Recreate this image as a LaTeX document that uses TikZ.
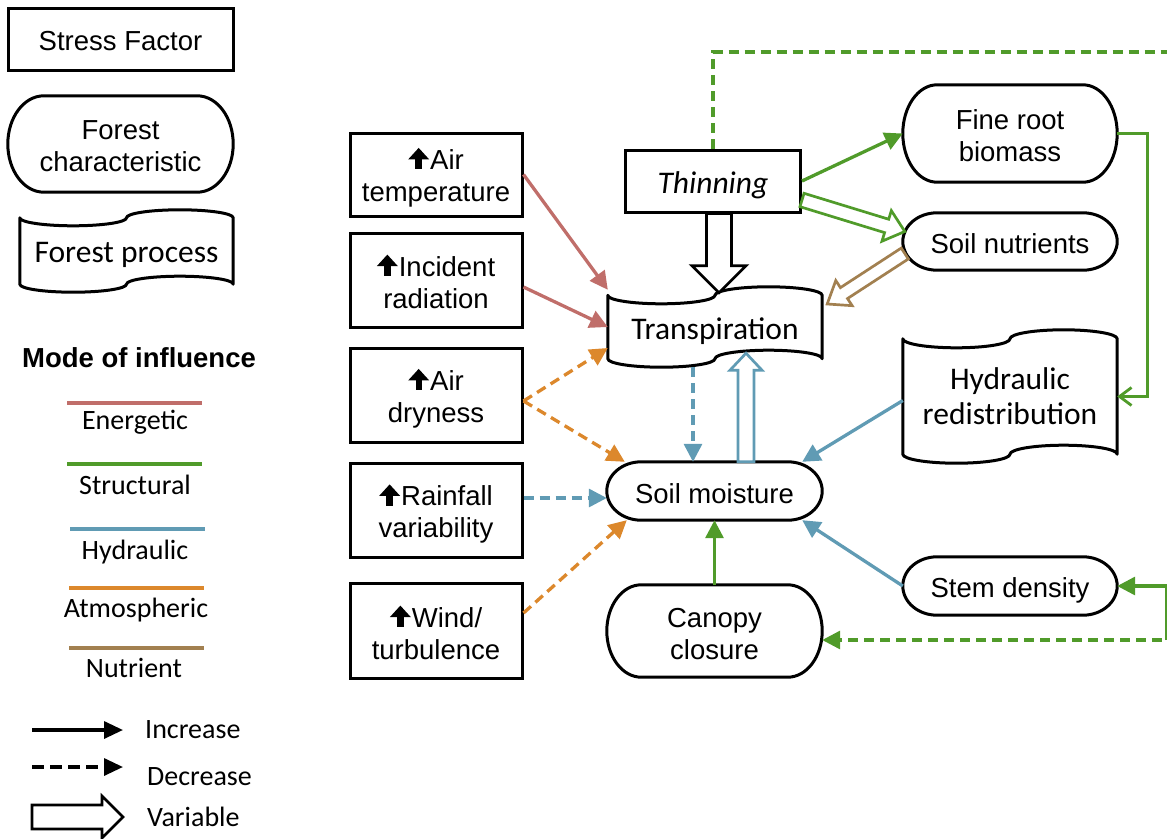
\documentclass[tikz,border=0pt]{standalone}
\usepackage{fontspec}
\setmainfont{Liberation Sans}
\newfontfamily\calib{Carlito}
\usetikzlibrary{arrows.meta,calc}
\definecolor{cEn}{RGB}{192,110,106}
\definecolor{cSt}{RGB}{80,155,42}
\definecolor{cHy}{RGB}{96,155,180}
\definecolor{cAt}{RGB}{220,136,44}
\definecolor{cNu}{RGB}{162,128,80}
\newcommand\af{\fontsize{27.5pt}{32pt}\selectfont}
\newcommand\cf{\calib\fontsize{31.5pt}{35pt}\selectfont}
\newcommand\lf{\calib\fontsize{28pt}{32pt}\selectfont}
\newcommand\uarr{\tikz[baseline=0pt]{\fill[black] (-3.2pt,0pt) rectangle (3.2pt,11pt); \fill[black] (-10.5pt,10pt) -- (0pt,21.5pt) -- (10.5pt,10pt) -- cycle;}\kern1pt}
\newcommand\tapeshape[2]{%
  \draw[shapeline] let \p1=(#1.north west), \p2=(#1.south east), \n1={(\x2-\x1)/4} in
   (\x1,\y1-#2) arc[start angle=180,end angle=360,x radius=\n1,y radius=#2]
   arc[start angle=180,end angle=0,x radius=\n1,y radius=#2]
   -- (\x2,\y2+#2)
   arc[start angle=0,end angle=180,x radius=\n1,y radius=#2]
   arc[start angle=0,end angle=-180,x radius=\n1,y radius=#2]
   -- cycle;}
\newcommand\termshape[1]{%
  \draw[shapeline] let \p1=(#1.north west), \p2=(#1.south east), \n1={0.16*(\x2-\x1)}, \n2={(\y1-\y2)/2} in
   (\x1+\n1,\y1) -- (\x2-\n1,\y1) arc[start angle=90,end angle=-90,x radius=\n1,y radius=\n2]
   -- (\x1+\n1,\y2) arc[start angle=270,end angle=90,x radius=\n1,y radius=\n2] -- cycle;}
\newcommand\fatarrow[6]{%
  \coordinate (fa-P) at ($(#2)!#5!(#1)$);
  \draw[#6] ($(#1)!#3!90:(#2)$) -- ($(fa-P)!#3!-90:(#1)$) -- ($(fa-P)!#4!-90:(#1)$) -- (#2)
    -- ($(fa-P)!#4!90:(#1)$) -- ($(fa-P)!#3!90:(#1)$) -- ($(#1)!#3!-90:(#2)$) -- cycle;}
\begin{document}
\begin{tikzpicture}[x=1pt,y=1pt,
  lbl/.style={inner sep=0pt, align=center},
  frame/.style={inner sep=0pt},
  sbox/.style={frame, draw=black, line width=3pt},
  tl/.style={lbl, yshift=-#1},
  shapeline/.style={draw=black, line width=3pt, line join=round},
  tipT/.style={-{Triangle[length=18pt,width=18pt]}},
  conn/.style={line width=3.3pt, tipT},
  lnEn/.style={conn, draw=cEn},
  lnSt/.style={conn, draw=cSt},
  lnHy/.style={conn, draw=cHy},
  lnAt/.style={conn, draw=cAt},
  dec/.style={dash pattern=on 10pt off 6pt},
  fat/.style={line width=2.7pt, line join=miter, fill=white},
  swatch/.style={line width=3.3pt},
]
\useasboundingbox (0,0) rectangle (1167,-838);
\clip (0,0) rectangle (1167,-838);

% ---------- legend ----------
\node[sbox, minimum width=225pt, minimum height=62pt,
  label={[tl=2pt, font=\af]center:Stress Factor}] (lsf) at (120.5,-39) {};
\node[frame, minimum width=225pt, minimum height=96pt,
  label={[tl=2.5pt, font=\af]center:{Forest\\characteristic}}] (lfc) at (120.5,-144) {};
\node[frame, minimum width=213pt, minimum height=82pt,
  label={[tl=3.5pt, font=\cf]center:Forest process}] (lfp) at (126.5,-251) {};
\termshape{lfc}
\tapeshape{lfp}{8pt}

\node[lbl, font=\af\bfseries] (mode) at (139,-358) {Mode of influence};
\coordinate (s1a) at (67,-403); \coordinate (s1b) at (202,-403);
\coordinate (s2a) at (67,-464); \coordinate (s2b) at (202,-464);
\coordinate (s3a) at (70,-529); \coordinate (s3b) at (205,-529);
\coordinate (s4a) at (69,-588); \coordinate (s4b) at (204,-588);
\coordinate (s5a) at (69,-648); \coordinate (s5b) at (204,-648);
\draw[swatch, cEn] (s1a) -- (s1b);
\draw[swatch, cSt] (s2a) -- (s2b);
\draw[swatch, cHy] (s3a) -- (s3b);
\draw[swatch, cAt] (s4a) -- (s4b);
\draw[swatch, cNu] (s5a) -- (s5b);
\node[lbl, font=\lf] (lEn) at (135,-422) {Energetic};
\node[lbl, font=\lf] (lSt) at (135,-485) {Structural};
\node[lbl, font=\lf] (lHy) at (135,-552) {Hydraulic};
\node[lbl, font=\lf] (lAt) at (136,-610) {Atmospheric};
\node[lbl, font=\lf] (lNu) at (134,-668) {Nutrient};

\coordinate (inA) at (32,-730); \coordinate (inB) at (123,-730);
\coordinate (deA) at (32,-767); \coordinate (deB) at (123,-767);
\coordinate (vaA) at (32,-817); \coordinate (vaB) at (123,-817);
\draw[line width=3.3pt, -{Triangle[length=19pt,width=17pt]}] (inA) -- (inB);
\draw[line width=3.3pt, dash pattern=on 12pt off 6pt, -{Triangle[length=19pt,width=17pt]}] (deA) -- (deB);
\fatarrow{vaA}{vaB}{12pt}{21pt}{21pt}{fat, draw=black}
\node[lbl, font=\lf, anchor=west] (lInc) at (145,-730) {Increase};
\node[lbl, font=\lf, anchor=west] (lDec) at (147,-777) {Decrease};
\node[lbl, font=\lf, anchor=west] (lVar) at (147,-817) {Variable};

% ---------- stress factors ----------
\node[sbox, minimum width=172pt, minimum height=83pt,
  label={[tl=3pt, font=\af]center:{\uarr Air\\temperature}}] (nAT) at (436,-174.5) {};
\node[sbox, minimum width=172pt, minimum height=94pt,
  label={[tl=1.5pt, font=\af]center:{\uarr Incident\\radiation}}] (nIR) at (436,-280) {};
\node[sbox, minimum width=172pt, minimum height=94pt,
  label={[tl=3.5pt, font=\af]center:{\uarr Air\\dryness}}] (nAD) at (436,-395) {};
\node[sbox, minimum width=172pt, minimum height=94pt,
  label={[tl=4pt, font=\af]center:{\uarr Rainfall\\variability}}] (nRV) at (436,-510) {};
\node[sbox, minimum width=172pt, minimum height=95pt,
  label={[tl=2pt, font=\af]center:{\uarr Wind/\\turbulence}}] (nWT) at (436,-630.5) {};
\node[sbox, minimum width=175pt, minimum height=62pt,
  label={[tl=4pt, font=\cf\itshape]center:Thinning}] (nTH) at (713,-181) {};

% ---------- processes / characteristics ----------
\node[frame, minimum width=214pt, minimum height=80pt,
  label={[tl=4.5pt, font=\cf]center:Transpiration}] (nTR) at (715,-327) {};
\node[frame, minimum width=214pt, minimum height=133pt,
  label={[tl=0pt, font=\cf]center:{Hydraulic\\redistribution}}] (nHR) at (1010,-396.5) {};
\node[frame, minimum width=215pt, minimum height=58pt,
  label={[tl=3pt, font=\af]center:Soil moisture}] (nSM) at (714.5,-491) {};
\node[frame, minimum width=215pt, minimum height=92pt,
  label={[tl=3.5pt, font=\af]center:{Canopy\\closure}}] (nCC) at (714.5,-631) {};
\node[frame, minimum width=214pt, minimum height=97pt,
  label={[tl=2.5pt, font=\af]center:{Fine root\\biomass}}] (nFR) at (1010,-133.5) {};
\node[frame, minimum width=214pt, minimum height=57pt,
  label={[tl=2pt, font=\af]center:Soil nutrients}] (nSN) at (1010,-241.5) {};
\node[frame, minimum width=214pt, minimum height=58pt,
  label={[tl=4pt, font=\af]center:Stem density}] (nSD) at (1010,-586) {};
\tapeshape{nTR}{8.5pt}
\tapeshape{nHR}{9pt}
\termshape{nSM}
\termshape{nCC}
\termshape{nFR}
\termshape{nSN}
\termshape{nSD}

% ---------- connectors ----------
\draw[lnEn] (nAT.east) -- ([yshift=-3pt]nTR.north west);
\draw[lnEn] ([yshift=-7pt]nIR.east) -- (nTR.west);
\draw[lnAt, dec] ([yshift=-6pt]nAD.east) -- ([yshift=-21pt]nTR.west);
\draw[lnAt, dec] ([yshift=-6pt]nAD.east) -- ([xshift=18pt]nSM.north west);
\draw[lnHy, dec] ([yshift=12pt]nRV.east) -- ([yshift=-7pt]nSM.west);
\draw[lnAt, dec] ([yshift=17.5pt]nWT.east) -- ([xshift=20pt]nSM.south west);

\coordinate (tdA) at ($(nTR.south)+(-22,0)$);
\draw[lnHy, dec] (tdA) -- (tdA |- nSM.north);

\coordinate (vbA) at ($(nSM.north)+(31.5,0)$);
\coordinate (vbB) at ($(nTR.south)+(31,14)$);
\fatarrow{vbA}{vbB}{8pt}{16pt}{17pt}{fat, draw=cHy}

\coordinate (tbA) at ($(nTH.south)+(6,0)$);
\coordinate (tbB) at ($(nTR.north)+(4,-6)$);
\fatarrow{tbA}{tbB}{12.5pt}{27pt}{27pt}{fat, draw=black}

\draw[lnSt] (nTH.east) -- (nFR.west);
\coordinate (vgA) at ($(nTH.east)+(0,-19)$);
\coordinate (vgB) at ($(nSN.west)+(2,10)$);
\fatarrow{vgA}{vgB}{7pt}{16pt}{19pt}{fat, draw=cSt}

\coordinate (vnA) at ($(nSN.west)+(2,-12)$);
\coordinate (vnB) at ($(nTR.east)+(5,23)$);
\fatarrow{vnA}{vnB}{6.5pt}{15pt}{20pt}{fat, draw=cNu}

\draw[line width=2.8pt, draw=cSt, -{Straight Barb[length=12pt,width=18pt]}] (nFR.east) -- ++(30,0) |- (nHR.east);
\draw[lnHy] ([yshift=-4pt]nHR.west) -- ([xshift=-20pt]nSM.north east);
\draw[lnHy] (nSD.west) -- ([xshift=-20pt]nSM.south east);
\draw[lnSt] (nCC.north) -- (nSM.south);

\coordinate (c1) at (1171,-52);
\coordinate (c2) at (1171,-640);
\coordinate (c3) at (1167,-640);
\draw[lnSt, dec, line join=miter] (nTH.north) -- (nTH.north |- c1) -- (c1) -- (c2) -- ([yshift=-9pt]nCC.east);
\draw[lnSt] (c3) |- (nSD.east);
\end{tikzpicture}
\end{document}
